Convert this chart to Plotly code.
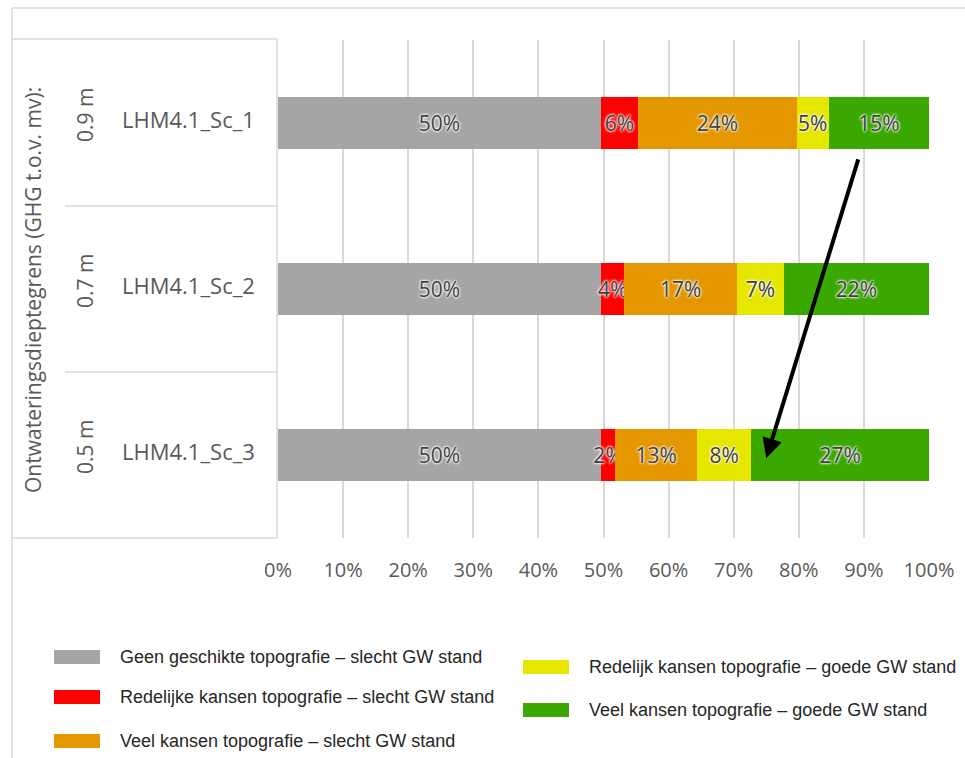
import plotly.graph_objects as go

# ---------------- data ----------------
scenarios = ["LHM4.1_Sc_1", "LHM4.1_Sc_2", "LHM4.1_Sc_3"]
depths = ["0.9 m", "0.7 m", "0.5 m"]
group_title = "Ontwateringsdieptegrens (GHG t.o.v. mv):"

series_names = [
    "Geen geschikte topografie – slecht GW stand",
    "Redelijke kansen topografie – slecht GW stand",
    "Veel kansen topografie – slecht GW stand",
    "Redelijk kansen topografie – goede GW stand",
    "Veel kansen topografie – goede GW stand",
]
geen_slecht = [0.496, 0.496, 0.496]
redelijk_slecht = [0.057, 0.036, 0.022]
veel_slecht = [0.244, 0.173, 0.126]
redelijk_goed = [0.049, 0.072, 0.083]
veel_goed = [0.154, 0.223, 0.273]
series_values = [geen_slecht, redelijk_slecht, veel_slecht, redelijk_goed, veel_goed]
series_colors = ["#A5A5A5", "#FF0000", "#E59700", "#E6E600", "#3AA800"]

x_ticks = [0, 0.1, 0.2, 0.3, 0.4, 0.5, 0.6, 0.7, 0.8, 0.9, 1.0]

# ---------------- layout helpers ----------------
W, H = 965, 758
L, R, T, B = 278, 929, 40, 538  # plot area in pixels


def px(xp):
    return (xp - L) / (R - L)


def py(yp):
    return (B - yp) / (B - T)


TXT = "#595959"
GRID = "#D9D9D9"

fig = go.Figure()
for name, vals, col in zip(series_names, series_values, series_colors):
    fig.add_trace(go.Bar(
        y=scenarios, x=vals, name=name, orientation="h",
        marker=dict(color=col, line=dict(width=0)),
        texttemplate="%{x:.0%}", textposition="inside", insidetextanchor="middle",
        textangle=0, constraintext="none",
        textfont=dict(family="Open Sans", size=21, color="#404040",
                      shadow="0px 0px 3px white, 0px 0px 3px white, 0px 0px 2px white"),
        width=0.31, showlegend=False, cliponaxis=False,
    ))

fig.update_layout(
    width=W, height=H, barmode="stack",
    margin=dict(l=L, r=W - R, t=T, b=H - B),
    paper_bgcolor="white", plot_bgcolor="white",
    font=dict(family="Open Sans", color=TXT),
    uniformtext=dict(mode=False),
    xaxis=dict(range=[0, 1], tickvals=x_ticks, tickformat=".0%",
               showgrid=True, gridcolor=GRID, gridwidth=1.5, zeroline=False,
               showline=False, ticks="", tickfont=dict(size=20, color=TXT),
               ticklabelstandoff=18, fixedrange=True),
    yaxis=dict(categoryorder="array", categoryarray=scenarios, autorange="reversed",
               showticklabels=False, showgrid=False, zeroline=False, showline=False,
               ticks="", fixedrange=True),
)

shapes = []
line = dict(color=GRID, width=1.5)
# outer chart border (top & left)
shapes.append(dict(type="line", xref="paper", yref="paper", x0=px(12), x1=px(W + 5),
                   y0=py(8), y1=py(8), line=line))
shapes.append(dict(type="line", xref="paper", yref="paper", x0=px(12), x1=px(12),
                   y0=py(8), y1=py(H + 5), line=line))
# category label box
shapes.append(dict(type="line", xref="paper", yref="paper", x0=px(12), x1=px(277),
                   y0=py(39), y1=py(39), line=line))
shapes.append(dict(type="line", xref="paper", yref="paper", x0=px(12), x1=px(277),
                   y0=py(538), y1=py(538), line=line))
shapes.append(dict(type="line", xref="paper", yref="paper", x0=px(277), x1=px(277),
                   y0=py(39), y1=py(538), line=line))
for yy in (206, 372):
    shapes.append(dict(type="line", xref="paper", yref="paper", x0=px(65), x1=px(277),
                       y0=py(yy), y1=py(yy), line=line))

annotations = []
for sc, dp in zip(scenarios, depths):
    annotations.append(dict(text=sc, xref="paper", yref="y", x=px(188), y=sc, yshift=4,
                            showarrow=False, xanchor="center", yanchor="middle",
                            font=dict(size=22, color=TXT, family="Open Sans")))
    annotations.append(dict(text=dp, xref="paper", yref="y", x=px(85), y=sc, yshift=8,
                            showarrow=False, textangle=-90, xanchor="center", yanchor="middle",
                            font=dict(size=21, color=TXT, family="Open Sans")))
annotations.append(dict(text=group_title, xref="paper", yref="paper", x=px(33), y=py(290),
                        showarrow=False, textangle=-90, xanchor="center", yanchor="middle",
                        font=dict(size=21, color=TXT, family="Open Sans")))

# arrow
annotations.append(dict(text="", x=0.75, y=2.02, xref="x", yref="y",
                        ax=0.892, ay=0.21, axref="x", ayref="y",
                        showarrow=True, arrowhead=2, arrowsize=1.0, arrowwidth=4,
                        arrowcolor="black"))

# custom legend (two columns)
legend_pos = [(54, 657), (54, 697), (54, 741), (523, 667), (523, 710)]
for (lx, ly), name, col in zip(legend_pos, series_names, series_colors):
    shapes.append(dict(type="rect", xref="paper", yref="paper",
                       x0=px(lx), x1=px(lx + 46), y0=py(ly - 7), y1=py(ly + 7),
                       fillcolor=col, line=dict(width=0)))
    annotations.append(dict(text=name, xref="paper", yref="paper", x=px(lx + 64), y=py(ly),
                            showarrow=False, xanchor="left", yanchor="middle",
                            font=dict(size=18, color="#262626", family="Liberation Sans")))

fig.update_layout(shapes=shapes, annotations=annotations)
fig.write_html("out.html")
